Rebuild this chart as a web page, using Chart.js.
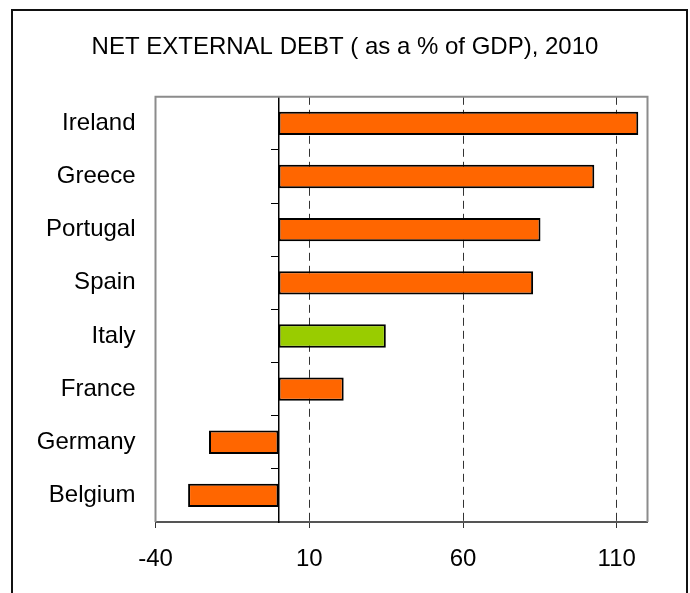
<!DOCTYPE html>
<html lang="en">
<head>
    <meta charset="UTF-8">
    <title>Net External Debt 2010</title>
    <script src="https://cdn.jsdelivr.net/npm/chart.js@4.4.1/dist/chart.umd.min.js"></script>
    <style>
        html, body {
            margin: 0;
            padding: 0;
            background: #fff;
            overflow: hidden;
        }
        #frame {
            position: absolute;
            left: 11px;
            top: 9px;
            width: 673px;
            height: 620px;
            border: 2px solid #111;
        }
        #chartBox {
            position: absolute;
            left: 0;
            top: 0;
            width: 690px;
            height: 593px;
        }
    </style>
</head>
<body>
    <div id="frame"></div>
    <div id="chartBox">
        <canvas id="debtChart"></canvas>
    </div>

    <script>
        // values
        const countries = ['Ireland', 'Greece', 'Portugal', 'Spain', 'Italy', 'France', 'Germany', 'Belgium'];
        const debtPct = [117, 102.7, 85.2, 82.8, 34.9, 21.2, -22.6, -29.4];
        const xTicks = [-40, 10, 60, 110];

        const ORANGE = '#FF6600';
        const GREEN = '#99CC00';
        const FONT = "'Liberation Sans', Arial, sans-serif";

        // grey box round the plot (top, left, right; bottom is the x axis line)
        const plotFrame = {
            id: 'plotFrame',
            beforeDatasetsDraw(chart) {
                const { ctx, chartArea: a } = chart;
                ctx.save();
                ctx.strokeStyle = '#8c8c8c';
                ctx.lineWidth = 2;
                ctx.beginPath();
                ctx.moveTo(a.left, a.bottom);
                ctx.lineTo(a.left, a.top);
                ctx.lineTo(a.right, a.top);
                ctx.lineTo(a.right, a.bottom);
                ctx.stroke();
                ctx.restore();
            }
        };

        const ctx = document.getElementById('debtChart').getContext('2d');
        new Chart(ctx, {
            type: 'bar',
            data: {
                labels: countries,
                datasets: [{
                    data: debtPct,
                    backgroundColor: c => countries[c.dataIndex] === 'Italy' ? GREEN : ORANGE,
                    borderColor: '#000',
                    borderWidth: 2,
                    borderSkipped: false,
                    barPercentage: 0.44,
                    categoryPercentage: 1.0
                }]
            },
            options: {
                indexAxis: 'y',
                responsive: true,
                maintainAspectRatio: false,
                animation: false,
                layout: {
                    padding: 0
                },
                plugins: {
                    legend: { display: false },
                    tooltip: { enabled: false },
                    title: {
                        display: true,
                        text: 'NET EXTERNAL DEBT ( as a % of GDP), 2010',
                        color: '#000',
                        font: { family: FONT, size: 24, weight: 'normal' },
                        padding: { top: 33, bottom: 35 }
                    }
                },
                scales: {
                    x: {
                        min: -40,
                        max: 120,
                        afterBuildTicks: scale => {
                            scale.ticks = xTicks.map(v => ({ value: v }));
                        },
                        afterFit: scale => {
                            scale.height = 71;
                        },
                        grid: {
                            color: c => (c.tick && c.tick.value === -40) ? 'rgba(0,0,0,0)' : '#333',
                            tickColor: '#333',
                            lineWidth: 1,
                            tickLength: 6
                        },
                        border: { display: true, color: '#555', width: 2, dash: [8, 5] },
                        ticks: {
                            color: '#000',
                            font: { family: FONT, size: 24 },
                            padding: 17,
                            maxRotation: 0
                        }
                    },
                    y: {
                        position: 'left',
                        afterFit: scale => {
                            scale.width = 155.5;
                        },
                        grid: { display: false, drawTicks: false },
                        border: { display: false },
                        ticks: {
                            color: '#000',
                            font: { family: FONT, size: 24 },
                            padding: 20
                        }
                    },
                    // empty right-hand axis: keeps the white margin right of the plot
                    yRight: {
                        type: 'category',
                        axis: 'y',
                        position: 'right',
                        afterFit: scale => {
                            scale.width = 42.5;
                        },
                        grid: { display: false, drawTicks: false },
                        border: { display: false },
                        ticks: { display: false }
                    },
                    // category axis crossing at zero: line plus short boundary ticks
                    y2: {
                        type: 'category',
                        axis: 'y',
                        position: { x: 0 },
                        offset: true,
                        ticks: { display: false },
                        grid: {
                            offset: true,
                            drawOnChartArea: false,
                            drawTicks: true,
                            tickLength: 7,
                            color: '#000',
                            lineWidth: 1
                        },
                        border: { display: true, color: '#000', width: 1.5 }
                    }
                }
            },
            plugins: [plotFrame]
        });
    </script>
</body>
</html>
